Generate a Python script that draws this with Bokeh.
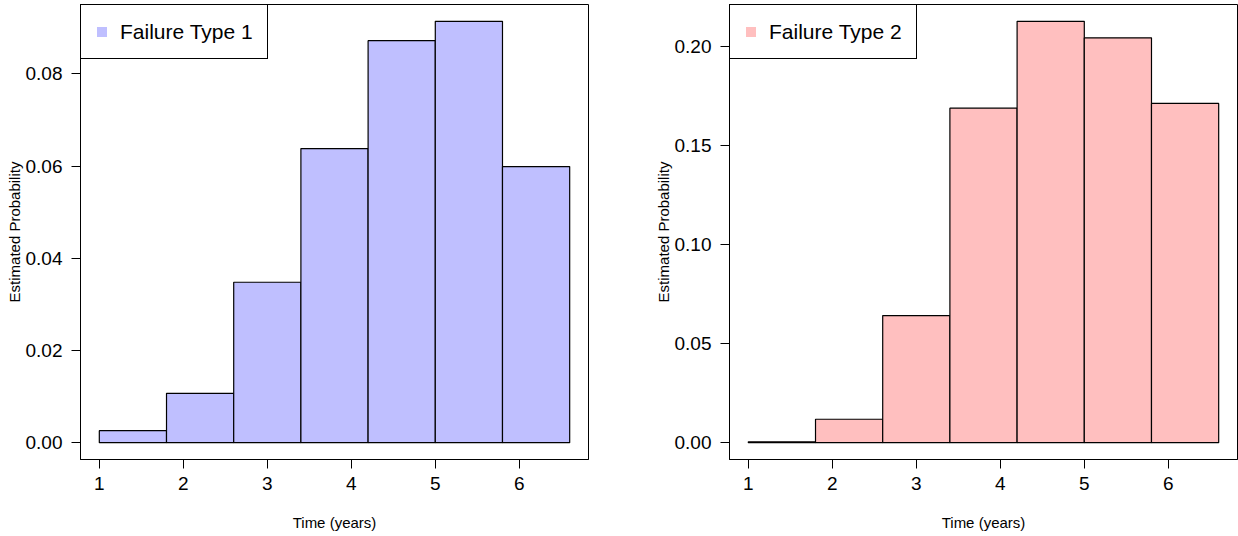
from bokeh.plotting import figure
from bokeh.layouts import row
from bokeh.models import (ColumnDataSource, Range1d, FixedTicker, Legend, LegendItem,
                          NumeralTickFormatter)
from bokeh.embed import file_html
from bokeh.resources import INLINE

# ---- data ----
bin_left = [1.0, 1.8, 2.6, 3.4, 4.2, 5.0, 5.8]
bin_right = [1.8, 2.6, 3.4, 4.2, 5.0, 5.8, 6.6]
prob_type1 = [0.0026, 0.0107, 0.0348, 0.0638, 0.0872, 0.0914, 0.0599]
prob_type2 = [0.0004, 0.0118, 0.0641, 0.1687, 0.2125, 0.2042, 0.1711]
x_ticks = [1, 2, 3, 4, 5, 6]
y_ticks_1 = [0.00, 0.02, 0.04, 0.06, 0.08]
y_ticks_2 = [0.00, 0.05, 0.10, 0.15, 0.20]
series_labels = ["Failure Type 1", "Failure Type 2"]
series_colors = ["#BFBFFF", "#FFBFBF"]
x_title = "Time (years)"
y_title = "Estimated Probability"

FONT = "Liberation Sans"


def panel(values, yticks, label, color, width, bl, br):
    xmin, xmax = min(bin_left), max(bin_right)
    xpad = 0.04 * (xmax - xmin)
    ymax = max(values)
    p = figure(width=width, height=536, output_backend="svg", toolbar_location=None,
               x_range=Range1d(xmin - xpad, xmax + xpad),
               y_range=Range1d(-0.04 * ymax, 1.04 * ymax),
               min_border_left=bl, min_border_right=br, min_border_top=4, min_border_bottom=77)
    p.grid.visible = False
    p.outline_line_color = "black"
    p.outline_line_width = 1
    p.background_fill_color = "white"
    p.border_fill_color = "white"

    src = ColumnDataSource(dict(left=bin_left, right=bin_right, top=values,
                                bottom=[0] * len(values)))
    p.quad(left="left", right="right", top="top", bottom="bottom", source=src,
           fill_color=color, line_color="black", line_width=1.2)

    for ax in (p.xaxis[0], p.yaxis[0]):
        ax.major_tick_in = 0
        ax.major_tick_out = 9
        ax.minor_tick_line_color = None
        ax.axis_line_color = "black"
        ax.major_tick_line_color = "black"
        ax.major_label_text_font = FONT
        ax.major_label_text_font_size = "19px"
        ax.major_label_text_color = "black"
        ax.axis_label_text_font = FONT
        ax.axis_label_text_font_size = "15px"
        ax.axis_label_text_font_style = "normal"
        ax.axis_label_text_color = "black"

    p.xaxis.ticker = FixedTicker(ticks=x_ticks)
    p.xaxis.axis_label = x_title
    p.xaxis.major_label_standoff = 8
    p.xaxis.axis_label_standoff = 21

    p.yaxis.ticker = FixedTicker(ticks=yticks)
    p.yaxis.formatter = NumeralTickFormatter(format="0.00")
    p.yaxis.axis_label = y_title
    p.yaxis.major_label_standoff = 9
    p.yaxis.major_label_orientation = "horizontal"
    p.yaxis.axis_label_standoff = 0

    # legend key: a square-marker renderer with one undrawable (NaN) row
    key_src = ColumnDataSource(dict(x=[bin_left[0]], y=[float("nan")]))
    r = p.scatter(x="x", y="y", source=key_src,
                  marker="square", size=10, fill_color=color, line_color=None)
    leg = Legend(items=[LegendItem(label=label, renderers=[r])], location="top_left",
                 margin=0, padding=8, spacing=0, glyph_width=25, glyph_height=25,
                 label_standoff=6, label_width=139, label_height=37,
                 label_text_font=FONT, label_text_font_size="21px",
                 label_text_color="black", border_line_color="black", border_line_width=1,
                 border_line_alpha=1.0,
                 background_fill_color="white", background_fill_alpha=1.0)
    p.add_layout(leg)
    return p


p1 = panel(prob_type1, y_ticks_1, series_labels[0], series_colors[0], 620, 80, 32)
p2 = panel(prob_type2, y_ticks_2, series_labels[1], series_colors[1], 618, 109, 1)

layout = row(p1, p2)
open("out.html", "w").write(file_html(layout, INLINE))
